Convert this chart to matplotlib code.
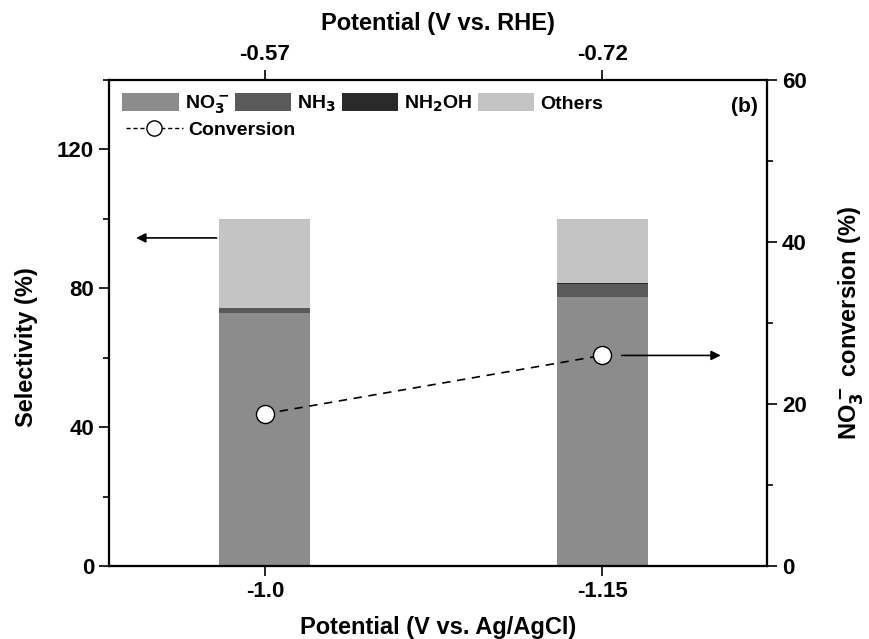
import matplotlib.pyplot as plt
from matplotlib.patches import Patch
from matplotlib.lines import Line2D

plt.rcParams['font.family'] = ['Liberation Sans', 'DejaVu Sans']
plt.rcParams['font.weight'] = 'bold'
plt.rcParams['mathtext.default'] = 'bf'

# data
agcl = ["-1.0", "-1.15"]
rhe = ["-0.57", "-0.72"]
no3 = [73.0, 77.5]
nh3 = [1.3, 3.8]
nh2oh = [0.0, 0.3]
others = [25.7, 18.4]
conversion = [18.8, 26.0]

colors = ["#8c8c8c", "#5a5a5a", "#2a2a2a", "#c4c4c4"]
pos = list(range(len(agcl)))
w = 0.27

fig = plt.figure(figsize=(8.7, 6.39), dpi=100)
ax = fig.add_axes([0.125, 0.114, 0.757, 0.761])

bottom = [0.0, 0.0]
for vals, c in zip([no3, nh3, nh2oh, others], colors):
    ax.bar(pos, vals, w, bottom=bottom, color=c, edgecolor="none")
    bottom = [b + v for b, v in zip(bottom, vals)]

ax.set_xlim(-0.463, 1.49)
ax.set_ylim(0, 140)
ax.set_yticks([0, 40, 80, 120])
ax.set_yticks([20, 60, 100, 140], minor=True)
ax.set_xticks(pos)
ax.set_xticklabels(agcl)
ax.set_ylabel("Selectivity (%)", fontsize=17, fontweight="bold")
ax.yaxis.set_label_coords(-0.108, 0.45)
ax.set_xlabel("Potential (V vs. Ag/AgCl)", fontsize=17, fontweight="bold", labelpad=10)

ax2 = ax.twinx()
ax2.set_ylim(0, 60)
ax2.set_yticks([0, 20, 40, 60])
ax2.set_yticks([10, 30, 50], minor=True)
ax2.plot(pos, conversion, color="black", ls=(0, (5, 4)), lw=1.2,
         marker="o", ms=13, mfc="white", mec="black", mew=1.0, zorder=5)
ax2.set_ylabel("NO$_3^-$ conversion (%)", fontsize=17, fontweight="bold")
ax2.yaxis.set_label_coords(1.104, 0.5)

ax3 = ax.twiny()
ax3.set_xlim(ax.get_xlim())
ax3.set_xticks(pos)
ax3.set_xticklabels(rhe)
ax3.set_xlabel("Potential (V vs. RHE)", fontsize=17, fontweight="bold", labelpad=10)

for a in (ax, ax2, ax3):
    for s in a.spines.values():
        s.set_linewidth(1.5)
    a.tick_params(which="both", direction="out", labelsize=16, width=1.2)
    a.tick_params(which="major", length=7)
    a.tick_params(which="minor", length=4)

# arrows pointing to each axis
ax.annotate("", xy=(-0.39, 94.5), xytext=(-w / 2, 94.5),
            arrowprops=dict(arrowstyle="-|>", color="black", lw=1.2, mutation_scale=14))
ax2.annotate("", xy=(1.36, conversion[1]), xytext=(1.05, conversion[1]),
             arrowprops=dict(arrowstyle="-|>", color="black", lw=1.2, mutation_scale=14))

ax.text(0.985, 0.965, "(b)", transform=ax.transAxes, ha="right", va="top",
        fontsize=15, fontweight="bold")

bar_handles = [
    Patch(facecolor=colors[0], label="NO$_3^-$"),
    Patch(facecolor=colors[1], label="NH$_3$"),
    Patch(facecolor=colors[2], label="NH$_2$OH"),
    Patch(facecolor=colors[3], label="Others"),
]
leg = ax2.legend(handles=bar_handles, ncol=4, loc="upper left", frameon=False,
                 fontsize=14, handlelength=2.9, handleheight=1.0, columnspacing=0.3,
                 handletextpad=0.3, borderaxespad=0.3)
ax2.add_artist(leg)
conv_handle = Line2D([], [], color="black", ls=(0, (3, 2)), lw=1.0, marker="o", ms=11,
                     mfc="white", mec="black", label="Conversion")
ax2.legend(handles=[conv_handle], loc="upper left", frameon=False, fontsize=14,
           handlelength=2.9, handletextpad=0.3, bbox_to_anchor=(0.0, 0.95))

fig.savefig("out.png", dpi=100)
